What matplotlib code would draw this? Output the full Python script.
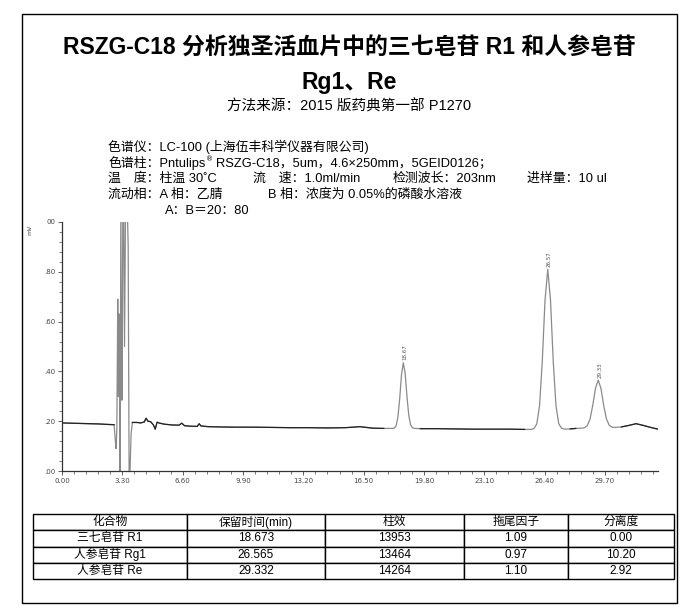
import matplotlib
matplotlib.use("Agg")
import matplotlib.pyplot as plt
from matplotlib.patches import Rectangle
from matplotlib.ticker import MultipleLocator
import numpy as np

plt.rcParams['font.family'] = ['Liberation Sans', 'Noto Sans CJK SC', 'DejaVu Sans']

# chromatogram trace (min, signal)
time = [0.0, 0.5, 1.0, 1.5, 2.0, 2.5, 2.85, 2.92, 2.96, 3.00, 3.05, 3.08, 3.11,
        3.14, 3.16, 3.18, 3.22, 3.26, 3.29, 3.33, 3.37, 3.42, 3.48, 3.56, 3.62,
        3.67, 3.72, 3.78, 3.85, 4.1, 4.3, 4.5, 4.6, 4.7, 4.85, 5.0, 5.1, 5.2,
        5.35, 5.6, 6.0, 6.4, 6.55, 6.7, 7.0, 7.4, 7.5, 7.6, 8.0, 8.6, 9.5, 10.5,
        11.5, 12.5, 13.5, 14.5, 15.5, 16.3, 17.0, 17.6,
        18.07, 18.17, 18.27, 18.37, 18.47, 18.57, 18.67, 18.77, 18.87, 18.97,
        19.07, 19.17, 19.27,
        19.6, 20.5, 21.5, 22.5, 23.5, 24.5, 25.3,
        25.67, 25.82, 25.97, 26.12, 26.27, 26.42, 26.57, 26.72, 26.87, 27.02,
        27.17, 27.32, 27.47,
        27.8, 28.1,
        28.43, 28.58, 28.73, 28.88, 29.03, 29.18, 29.33, 29.48, 29.63, 29.78,
        29.93, 30.08, 30.23,
        30.6, 31.0, 31.4, 31.8, 32.2, 32.6]
signal = [0.193, 0.192, 0.191, 0.190, 0.189, 0.187, 0.186, 0.120, 0.090, 0.170,
          0.690, 0.300, 0.630, 0.630, 0.000, 0.000, 1.100, 0.285, 0.285, 1.100,
          1.100, 0.500, 1.100, 1.100, 0.900, 0.000, 0.000, 0.150, 0.195, 0.195,
          0.193, 0.197, 0.212, 0.200, 0.198, 0.185, 0.168, 0.196, 0.192, 0.188,
          0.185, 0.184, 0.192, 0.182, 0.180, 0.179, 0.190, 0.181, 0.178, 0.177,
          0.176, 0.176, 0.175, 0.174, 0.174, 0.173, 0.174, 0.178, 0.172, 0.171,
          0.171, 0.172, 0.181, 0.214, 0.289, 0.387, 0.435, 0.392, 0.298, 0.222,
          0.185, 0.174, 0.171,
          0.170, 0.170, 0.169, 0.168, 0.168, 0.168, 0.167,
          0.167, 0.171, 0.189, 0.261, 0.440, 0.686, 0.810, 0.686, 0.440, 0.262,
          0.190, 0.172, 0.168,
          0.169, 0.171,
          0.172, 0.174, 0.182, 0.208, 0.263, 0.332, 0.365, 0.332, 0.263, 0.209,
          0.184, 0.176, 0.175,
          0.177, 0.183, 0.190, 0.183, 0.175, 0.168]

peak_times = [18.67, 26.57, 29.33]
peak_heights = [0.435, 0.810, 0.365]
peak_labels = ["18.67", "26.57", "29.33"]
peak_windows = [(2.88, 3.80), (18.0, 19.3), (25.6, 27.5), (28.4, 30.25)]

x_ticks = [0.0, 3.3, 6.6, 9.9, 13.2, 16.5, 19.8, 23.1, 26.4, 29.7]
y_ticks = [0.0, 0.2, 0.4, 0.6, 0.8, 1.0]

columns = ["化合物", "保留时间(min)", "柱效", "拖尾因子", "分离度"]
compounds = ["三七皂苷 R1", "人参皂苷 Rg1", "人参皂苷 Re"]
ret_time = ["18.673", "26.565", "29.332"]
plates = ["13953", "13464", "14264"]
tailing = ["1.09", "0.97", "1.10"]
resolution = ["0.00", "10.20", "2.92"]

W, H = 699, 605
fig = plt.figure(figsize=(W / 100, H / 100), dpi=100)

def fx(x):
    return x / W

def fy(y):
    return 1 - y / H

def right_edge(txt):
    fig.canvas.draw()
    return txt.get_window_extent().x1 / fig.dpi / fig.get_figwidth()

# outer frame
fig.patches.append(Rectangle((fx(22), fy(603)), fx(677) - fx(22), fy(14) - fy(603),
                             transform=fig.transFigure, fill=False, lw=1.0, color='black'))

# titles
fig.text(0.5, fy(48), "RSZG-C18 分析独圣活血片中的三七皂苷 R1 和人参皂苷",
         ha='center', va='center', fontsize=16.5, fontweight='bold')
fig.text(0.5, fy(83), "Rg1、Re", ha='center', va='center', fontsize=16.5, fontweight='bold')
fig.text(0.5, fy(106), "方法来源：2015 版药典第一部 P1270", ha='center', va='center', fontsize=10.5)

# method info
fs = 9.3
fig.text(fx(108), fy(147), "色谱仪：LC-100 (上海伍丰科学仪器有限公司)", va='center', fontsize=fs)
t = fig.text(fx(108), fy(163), "色谱柱：Pntulips", va='center', fontsize=fs)
reg = fig.text(right_edge(t) + fx(0.5), fy(162), "®", va='bottom', fontsize=5, family='DejaVu Sans')
fig.text(right_edge(reg) + fx(3), fy(163), "RSZG-C18，5um，4.6×250mm，5GEID0126；",
         va='center', fontsize=fs)
fig.text(fx(108), fy(179), "温　度：柱温 30˚C", va='center', fontsize=fs)
fig.text(fx(253), fy(179), "流　速：1.0ml/min", va='center', fontsize=fs)
fig.text(fx(393), fy(179), "检测波长：203nm", va='center', fontsize=fs)
fig.text(fx(527), fy(179), "进样量：10 ul", va='center', fontsize=fs)
fig.text(fx(108), fy(195), "流动相：A 相：乙腈", va='center', fontsize=fs)
fig.text(fx(268), fy(195), "B 相：浓度为 0.05%的磷酸水溶液", va='center', fontsize=fs)
fig.text(fx(165), fy(211), "A：B＝20：80", va='center', fontsize=fs)

# chromatogram
ax = fig.add_axes([fx(62), fy(471), fx(658) - fx(62), fy(222) - fy(471)])
time_a = np.array(time)
signal_a = np.array(signal)
ax.plot(time_a, signal_a, color='#8a8a8a', lw=0.9)
in_peak = np.zeros(len(time_a), dtype=bool)
for a, b in peak_windows:
    in_peak |= (time_a > a) & (time_a < b)
ax.plot(time_a, np.where(in_peak, np.nan, signal_a), color='#222222', lw=0.9)
for pt, ph, pl in zip(peak_times, peak_heights, peak_labels):
    ax.text(pt + 0.08, ph + 0.01, pl, rotation=90, fontsize=4, ha='center', va='bottom',
            color='#555555', family='DejaVu Sans')

ax.set_xlim(0, 32.6)
ax.set_ylim(0, 1.0)
for s in ['top', 'right']:
    ax.spines[s].set_visible(False)
for s in ['left', 'bottom']:
    ax.spines[s].set_linewidth(0.9)
    ax.spines[s].set_color('#333333')
ax.set_xticks(x_ticks)
ax.set_xticklabels([f"{v:.2f}" for v in x_ticks], fontsize=5, color='#444444', family='DejaVu Sans')
ax.set_yticks(y_ticks)
ax.set_yticklabels([f"{v:.2f}".lstrip('0') if v < 1 else "00" for v in y_ticks],
                   fontsize=5, color='#444444', family='DejaVu Sans')
ax.xaxis.set_minor_locator(MultipleLocator(0.66))
ax.yaxis.set_minor_locator(MultipleLocator(0.04))
ax.tick_params(which='major', length=3, width=0.6, color='#444444', pad=2)
ax.tick_params(which='minor', length=2, width=0.5, color='#444444')
fig.text(fx(30), fy(230), "mV", rotation=90, fontsize=4.5, ha='center', va='center',
         color='#444444', family='DejaVu Sans')

# result table
tax = fig.add_axes([fx(33), fy(579), fx(674) - fx(33), fy(514) - fy(579)])
tax.axis('off')
rows = [list(r) for r in zip(compounds, ret_time, plates, tailing, resolution)]
col_px = [154, 138, 139, 104, 106]
tbl = tax.table(cellText=rows, colLabels=columns, cellLoc='center', bbox=[0, 0, 1, 1],
                colWidths=[c / sum(col_px) for c in col_px])
tbl.auto_set_font_size(False)
for (i, j), cell in tbl.get_celld().items():
    cell.set_linewidth(1.0)
    cell.set_edgecolor('black')
    cell.get_text().set_fontsize(8.5)

fig.savefig("out.png", dpi=100)
